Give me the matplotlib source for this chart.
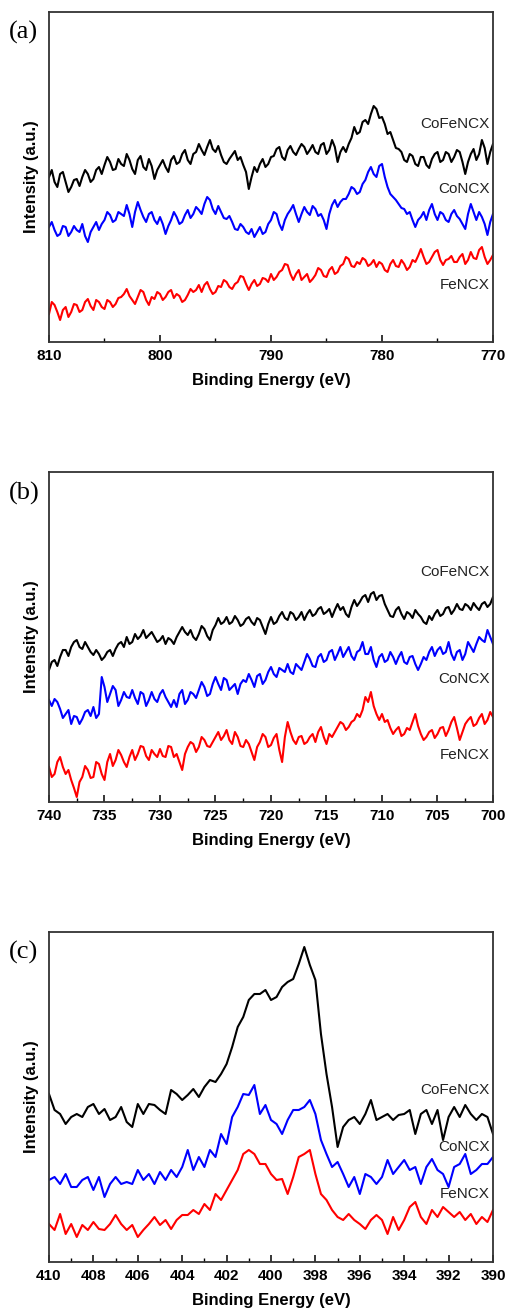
import numpy as np
import matplotlib
matplotlib.use("Agg")
import matplotlib.pyplot as plt

plt.rcParams["font.family"] = ["Liberation Sans", "DejaVu Sans"]

# binding energy grids (eV)
energy_a = np.arange(810, 769.9, -0.25)
energy_b = np.arange(740, 699.9, -0.25)
energy_c = np.arange(410, 389.9, -0.25)

# (a) Co 2p region, intensities (a.u., offset-stacked as in the figure)
# readings every 0.5 eV, plus the in-between noise points
cofe_a = [165, 160, 168, 160, 155, 163, 165, 168, 163, 175,
          177, 180, 173, 178, 188, 173, 182, 175, 183, 163,
          177, 175, 182, 178, 188, 182, 188, 198, 187, 202,
          190, 187, 178, 187, 182, 177, 153, 175, 178, 175,
          185, 193, 185, 192, 190, 193, 195, 192, 190, 197,
          188, 202, 180, 195, 198, 215, 210, 222, 228, 233,
          225, 208, 202, 193, 182, 188, 178, 185, 177, 183,
          190, 182, 188, 185, 190, 168, 188, 182, 202, 178, 198]
cofe_a_mid = [172, 155, 170, 150, 162, 156, 172, 160, 172, 168,
              185, 172, 183, 176, 182, 168, 186, 172, 176, 172,
              182, 170, 186, 180, 192, 178, 190, 192, 195, 193,
              196, 180, 183, 191, 185, 170, 165, 170, 183, 178,
              186, 195, 182, 196, 187, 198, 188, 197, 188, 199,
              192, 195, 190, 190, 204, 208, 220, 218, 236, 224,
              218, 210, 194, 190, 180, 186, 176, 185, 174, 188,
              180, 190, 180, 192, 180, 180, 193, 188, 194, 190]
co_a = [115, 112, 108, 115, 110, 112, 118, 100, 115, 112,
        122, 127, 122, 128, 137, 115, 140, 125, 128, 122,
        125, 108, 122, 125, 120, 132, 128, 132, 138, 142,
        128, 130, 123, 120, 112, 115, 108, 105, 115, 110,
        122, 128, 112, 128, 137, 120, 135, 127, 133, 128,
        113, 137, 135, 143, 148, 153, 150, 162, 175, 165,
        178, 155, 145, 138, 133, 130, 115, 125, 122, 138,
        122, 128, 120, 132, 123, 113, 138, 122, 125, 107, 128]
co_a_mid = [120, 106, 116, 106, 116, 110, 106, 110, 120, 118,
            130, 120, 130, 126, 128, 130, 132, 120, 130, 118,
            118, 116, 130, 118, 127, 124, 135, 128, 145, 133,
            136, 124, 126, 113, 118, 110, 113, 110, 108, 118,
            130, 118, 122, 132, 128, 128, 130, 136, 126, 122,
            128, 142, 140, 143, 155, 148, 158, 170, 168, 176,
            165, 148, 142, 134, 128, 122, 122, 130, 132, 128,
            130, 122, 128, 126, 118, 128, 130, 130, 118, 120]
fe_a = [28, 37, 22, 35, 30, 37, 32, 43, 32, 40,
        33, 40, 38, 45, 53, 42, 45, 50, 37, 43,
        48, 45, 52, 48, 40, 47, 50, 57, 57, 53,
        50, 55, 60, 53, 60, 65, 52, 62, 58, 63,
        68, 65, 72, 77, 62, 72, 65, 60, 67, 72,
        65, 75, 70, 78, 83, 75, 78, 82, 78, 75,
        78, 70, 82, 75, 78, 75, 80, 93, 78, 85,
        92, 77, 83, 80, 85, 78, 90, 83, 95, 78, 87]
fe_a_mid = [40, 30, 32, 25, 38, 30, 40, 36, 42, 35,
            42, 35, 44, 48, 46, 38, 52, 42, 45, 50,
            42, 50, 44, 46, 42, 53, 52, 50, 60, 48,
            56, 62, 55, 58, 66, 58, 58, 56, 64, 60,
            62, 70, 78, 68, 68, 62, 68, 63, 74, 66,
            72, 68, 76, 85, 76, 80, 84, 76, 82, 80,
            72, 78, 76, 82, 72, 82, 86, 85, 80, 90,
            82, 82, 86, 80, 88, 82, 84, 92, 85, 82]

# (b) Fe 2p region
cofe_b = [132, 142, 145, 152, 155, 162, 153, 155, 147, 148,
          145, 152, 153, 160, 165, 160, 163, 172, 167, 165,
          162, 158, 162, 165, 175, 167, 165, 168, 173, 162,
          177, 178, 185, 180, 182, 178, 185, 177, 182, 168,
          185, 180, 190, 182, 188, 185, 182, 192, 188, 195,
          190, 185, 198, 195, 185, 202, 200, 207, 208, 202,
          207, 192, 185, 195, 183, 188, 192, 185, 178, 182,
          192, 188, 195, 192, 193, 198, 192, 195, 198, 195, 205]
cofe_b_mid = [140, 136, 152, 146, 160, 155, 160, 150, 152, 142,
              150, 146, 158, 155, 158, 168, 166, 164, 170, 160,
              166, 164, 158, 170, 170, 172, 162, 176, 166, 172,
              184, 180, 178, 186, 176, 183, 180, 184, 175, 178,
              178, 186, 184, 190, 182, 190, 188, 186, 193, 188,
              193, 192, 192, 188, 195, 196, 205, 200, 210, 206,
              198, 186, 192, 188, 190, 184, 188, 180, 186, 188,
              186, 194, 188, 198, 192, 196, 199, 192, 200, 198]
co_b = [102, 103, 93, 88, 78, 85, 83, 92, 95, 88,
        115, 108, 112, 102, 105, 112, 98, 108, 102, 103,
        108, 105, 95, 95, 112, 102, 108, 112, 115, 108,
        125, 112, 122, 115, 108, 122, 128, 115, 128, 122,
        135, 125, 132, 138, 128, 135, 140, 143, 135, 148,
        142, 152, 148, 145, 155, 142, 152, 148, 155, 135,
        148, 142, 145, 145, 140, 145, 138, 138, 142, 155,
        152, 148, 160, 142, 152, 148, 155, 158, 162, 172, 158]
co_b_mid = [96, 100, 84, 92, 86, 78, 90, 86, 84, 125,
            100, 116, 96, 110, 104, 104, 110, 96, 110, 100,
            112, 100, 102, 108, 98, 110, 104, 120, 106, 118,
            118, 124, 112, 118, 118, 120, 122, 126, 118, 130,
            128, 134, 130, 130, 138, 132, 148, 136, 145, 140,
            150, 142, 155, 150, 146, 150, 160, 148, 142, 145,
            140, 150, 138, 150, 138, 146, 132, 145, 150, 146,
            155, 150, 148, 150, 142, 160, 150, 165, 160, 165]
fe_b = [35, 28, 45, 28, 22, 5, 25, 32, 25, 38,
        22, 48, 42, 47, 35, 52, 48, 55, 42, 48,
        53, 45, 55, 48, 32, 55, 58, 55, 62, 55,
        65, 62, 72, 58, 65, 55, 58, 42, 60, 65,
        57, 68, 40, 80, 62, 65, 58, 65, 60, 75,
        58, 65, 75, 78, 75, 82, 85, 105, 110, 88,
        88, 82, 68, 75, 68, 72, 88, 68, 65, 72,
        68, 75, 72, 85, 62, 78, 85, 78, 88, 82, 85]
fe_b_mid = [25, 40, 35, 32, 14, 20, 36, 24, 40, 28,
            40, 36, 52, 40, 45, 42, 56, 46, 52, 45,
            46, 56, 45, 40, 48, 60, 50, 65, 56, 60,
            70, 66, 62, 70, 56, 62, 50, 55, 68, 55,
            64, 52, 65, 70, 58, 66, 60, 68, 70, 65,
            68, 70, 80, 72, 80, 88, 92, 100, 96, 82,
            80, 74, 72, 66, 74, 80, 76, 62, 70, 64,
            74, 66, 80, 74, 70, 82, 76, 84, 78, 90]

# (c) N 1s region
cofe_c = [168, 152, 148, 138, 145, 148, 145, 155, 158, 148,
          153, 142, 145, 155, 140, 135, 158, 148, 158, 157,
          152, 148, 172, 168, 162, 167, 173, 165, 175, 182,
          180, 188, 198, 215, 235, 245, 262, 268, 268, 272,
          262, 265, 275, 280, 283, 298, 315, 297, 282, 228,
          188, 155, 115, 135, 142, 145, 138, 148, 162, 142,
          145, 148, 142, 147, 148, 152, 128, 148, 152, 138,
          152, 122, 145, 155, 145, 157, 148, 142, 148, 145, 128]
co_c = [82, 85, 78, 88, 75, 75, 82, 85, 72, 85,
        65, 78, 85, 78, 80, 78, 92, 82, 88, 78,
        90, 82, 92, 85, 95, 112, 92, 105, 95, 112,
        105, 128, 118, 145, 155, 168, 167, 177, 148, 157,
        142, 138, 128, 142, 152, 152, 155, 162, 148, 122,
        108, 95, 100, 88, 75, 85, 68, 88, 85, 78,
        85, 102, 88, 95, 102, 92, 95, 78, 95, 103,
        92, 88, 75, 95, 98, 108, 88, 92, 98, 98, 105]
fe_c = [38, 32, 48, 28, 38, 25, 37, 32, 40, 33,
        32, 38, 47, 38, 32, 37, 25, 32, 38, 45,
        37, 42, 33, 42, 47, 47, 52, 48, 58, 52,
        68, 62, 72, 82, 92, 108, 112, 108, 98, 98,
        88, 82, 83, 68, 85, 105, 108, 112, 88, 68,
        62, 52, 45, 42, 48, 42, 38, 33, 42, 47,
        42, 28, 45, 32, 42, 55, 60, 45, 38, 52,
        45, 55, 50, 45, 50, 42, 48, 38, 45, 40, 52]


def weave(main, mid):
    # put the in-between readings back between the 0.5 eV readings
    out = np.empty(len(main) + len(mid))
    out[0::2] = main
    out[1::2] = mid
    return out


names = ["CoFeNCX", "CoNCX", "FeNCX"]
colors = ["black", "#0000ff", "#ff0000"]

panels = [
    ("(a)", energy_a, [weave(cofe_a, cofe_a_mid), weave(co_a, co_a_mid), weave(fe_a, fe_a_mid)],
     (810, 770), 10, 5, [218, 153, 57]),
    ("(b)", energy_b, [weave(cofe_b, cofe_b_mid), weave(co_b, co_b_mid), weave(fe_b, fe_b_mid)],
     (740, 700), 5, 2.5, [230, 123, 47]),
    ("(c)", energy_c, [cofe_c, co_c, fe_c], (410, 390), 2, 1, [172, 115, 68]),
]

W, H = 506, 1312
fig = plt.figure(figsize=(W / 100, H / 100), dpi=100)

axes_top = [12, 472, 932]      # pixel rows of each panel's top edge
label_y = [32, 493, 952]

for k, (tag, e, series, xlim, major, minor, ly) in enumerate(panels):
    top = axes_top[k]
    ax = fig.add_axes([49 / W, 1 - (top + 330) / H, 444 / W, 330 / H])
    for y, c in zip(series, colors):
        ax.plot(e, y, color=c, lw=1.5)
    ax.set_xlim(*xlim)
    ax.set_ylim(0, 330)
    ax.set_yticks([])
    ax.set_xticks(np.arange(xlim[1], xlim[0] + 0.01, major))
    ax.set_xticks(np.arange(xlim[1], xlim[0] + 0.01, minor), minor=True)
    ax.tick_params(axis="x", which="major", direction="in", length=5, width=1.1,
                   pad=5, labelsize=11)
    ax.tick_params(axis="x", which="minor", direction="in", length=3, width=1.0)
    for lab in ax.get_xticklabels():
        lab.set_fontweight("bold")
    for s in ax.spines.values():
        s.set_linewidth(1.3)
        s.set_color("#333333")
    ax.set_xlabel("Binding Energy (eV)", fontsize=12, fontweight="bold", labelpad=7)
    ax.set_ylabel("Intensity (a.u.)", fontsize=12, fontweight="bold", labelpad=7)
    for name, yy in zip(names, ly):
        ax.text(xlim[1] + 0.008 * (xlim[0] - xlim[1]), yy, name, ha="right",
                va="center", fontsize=11, color="#222222")
    fig.text(9 / W, 1 - label_y[k] / H, tag, family="Liberation Serif",
             fontsize=19, ha="left", va="center")

fig.savefig("out.png", dpi=100)
